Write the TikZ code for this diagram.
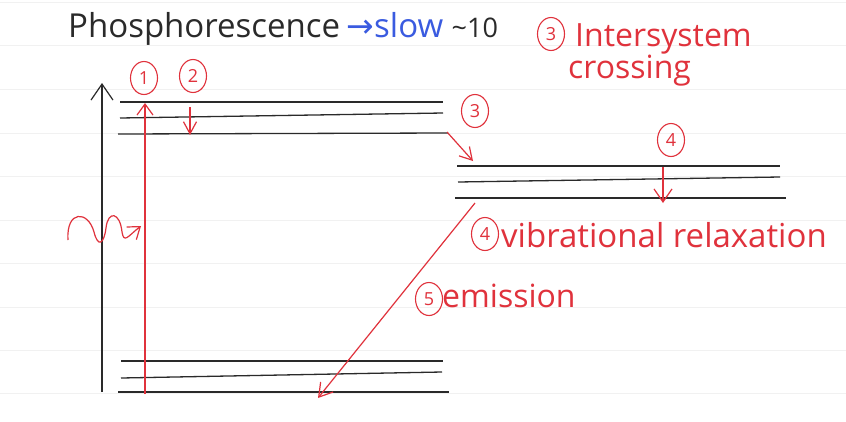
\documentclass[tikz,border=0pt]{standalone}
\usepackage{fontspec}
\setmainfont{Open Sans}
\newfontfamily\symfont{DejaVu Sans}
\usetikzlibrary{arrows.meta,shapes.geometric}
\definecolor{ink}{HTML}{2A2A2A}
\definecolor{pen}{HTML}{E0323C}
\definecolor{bluepen}{HTML}{3A5BE0}
\definecolor{rulecol}{HTML}{F1F1F1}
\begin{document}
\begin{tikzpicture}[x=1pt,y=-1pt,
  level/.style={ink, line width=1.3pt},
  redline/.style={pen, line width=1.2pt},
  num/.style={ellipse, draw=pen, text=pen, line width=1.1pt, inner sep=0pt,
    minimum width=27pt, minimum height=33pt, font=\fontsize{18}{18}\selectfont},
  lbl/.style={pen, anchor=base west, inner sep=0pt, font=\fontsize{32}{32}\selectfont},
  ttl/.style={anchor=base west, inner sep=0pt, font=\fontsize{33}{33}\selectfont}]
\useasboundingbox (0,0) rectangle (846,421);
\fill[white] (0,0) rectangle (846,421);
\foreach \yy in {2,45,89,133,176,220,263,307,350,393}
  \draw[rulecol, line width=1pt] (0,\yy) -- (846,\yy);

% title
\node[ttl, ink] (title) at (68,37) {Phosphorescence};
\node[ttl, bluepen] (slow) at ([xshift=6pt]title.base east) {{\symfont →}slow};
\node[ttl, ink, font=\fontsize{27}{27}\selectfont] (approx) at ([xshift=8pt]slow.base east) {\textasciitilde 10};

% intersystem crossing label
\node[num] (n3top) at (551,34) {3};
\node[lbl] (isc1) at (575,46) {Intersystem};
\node[lbl] (isc2) at (568,78) {crossing};

% energy levels
\draw[level] (120,102) -- (443,102);
\draw[level] (120,118) -- (443,113);
\draw[level] (118,134) -- (448,133);
\draw[level] (457,166) -- (780,166);
\draw[level] (458,182) -- (780,177);
\draw[level] (455,198) -- (786,198);
\draw[level] (121,361) -- (443,361);
\draw[level] (121,378) -- (442,372);
\draw[level] (118,392) -- (449,392);

% energy axis
\coordinate (ax0) at (102,392);
\coordinate (ax1) at (102,83);
\draw[ink, line width=1.2pt, -{Straight Barb[length=16pt,width=22pt,line width=1.2pt]}] (ax0) -- (ax1);

% step numbers
\node[num] (n1) at (144,78) {1};
\node[num] (n2) at (193,76) {2};
\node[num] (n3) at (475,111) {3};
\node[num] (n4) at (671,140) {4};

% excitation
\coordinate (ex0) at (145,394);
\coordinate (ex1) at (145,103);
\draw[redline, -{Straight Barb[length=11pt,width=16pt,line width=1.2pt]}] (ex0) -- (ex1);

% relaxation in S1
\coordinate (r0) at (190,107);
\coordinate (r1) at (190,135);
\draw[redline, -{Straight Barb[length=12pt,width=13pt,line width=1.2pt]}] (r0) -- (r1);

% intersystem crossing arrow
\coordinate (i0) at (447,132);
\coordinate (i1) at (473,161);
\draw[redline, -{Straight Barb[length=12pt,width=14pt,line width=1.2pt]}] (i0) -- (i1);

% vibrational relaxation in T1
\coordinate (v0) at (663,167);
\coordinate (v1) at (663,203);
\draw[redline, -{Straight Barb[length=13pt,width=18pt,line width=1.2pt]}] (v0) -- (v1);

% emission
\coordinate (e0) at (475,203);
\coordinate (e1) at (318,398);
\draw[redline, -{Straight Barb[length=13pt,width=16pt,line width=1.2pt]}] (e0) -- (e1);

% photon wave
\coordinate (w0) at (68,240);
\coordinate (w1) at (141,226);
\draw[redline, -{Straight Barb[length=11pt,width=16pt,line width=1.2pt]}]
  (w0) .. controls (66,210) and (88,210) .. (94,232)
       .. controls (98,248) and (104,244) .. (106,228)
       .. controls (108,210) and (120,212) .. (122,232)
       .. controls (124,244) and (128,236) .. (w1);

% labels
\node[num] (n4b) at (485,234) {4};
\node[lbl, font=\fontsize{33}{33}\selectfont] (vib) at (501,247) {vibrational relaxation};
\node[num] (n5) at (429,299) {5};
\node[lbl] (emi) at (442,307) {emission};
\end{tikzpicture}
\end{document}
